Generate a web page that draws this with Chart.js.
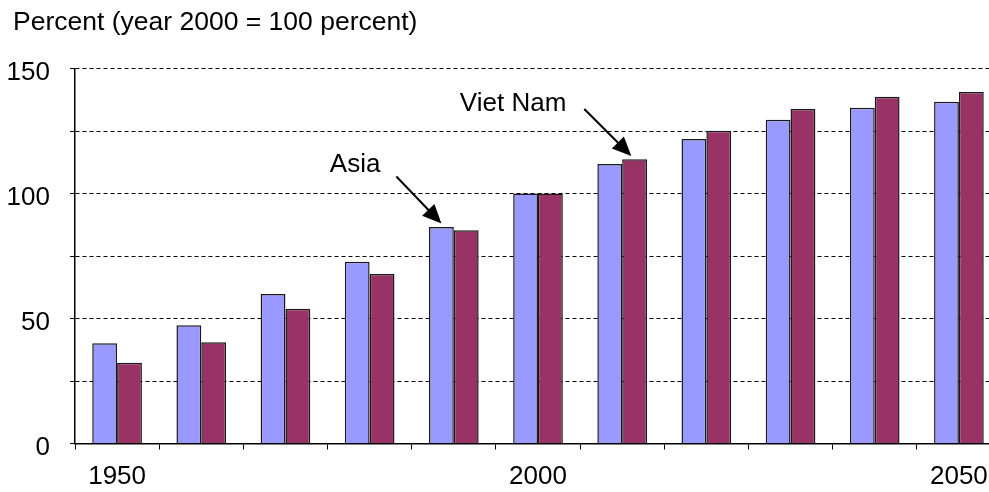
<!DOCTYPE html>
<html>
<head>
<meta charset="utf-8">
<script src="https://cdn.jsdelivr.net/npm/chart.js@4/dist/chart.umd.min.js"></script>
<style>
    html, body { margin: 0; padding: 0; background: #fff; overflow: hidden; }
    #box { width: 1010px; height: 492px; }
</style>
</head>
<body>
<div id="box"><canvas id="grafico" width="1010" height="492"></canvas></div>
<script>
// dados
const anos = ['1950', '1960', '1970', '1980', '1990', '2000', '2010', '2020', '2030', '2040', '2050'];
const anosRotulados = ['1950', '2000', '2050'];
const asia = [40.1, 47.3, 59.8, 72.7, 86.6, 100, 111.8, 121.8, 129.5, 134.3, 136.7];
const vietNam = [32.3, 40.5, 53.9, 67.8, 85.3, 100, 113.7, 125.1, 133.8, 138.7, 140.6];
const ticksY = [0, 50, 100, 150];
const titulo = 'Percent (year 2000 = 100 percent)';

const fonte = 'Arial, "Liberation Sans", sans-serif';

// título no canto superior esquerdo (fora da área das escalas)
const tituloPlugin = {
    id: 'tituloPlugin',
    afterDraw(chart) {
        const c = chart.ctx;
        c.save();
        c.font = '26.5px ' + fonte;
        c.fillStyle = '#000';
        c.textAlign = 'left';
        c.textBaseline = 'middle';
        c.fillText(titulo, 13, 23);
        c.restore();
    }
};

// setas com os nomes das séries
const setas = {
    id: 'setas',
    afterDatasetsDraw(chart) {
        const c = chart.ctx;
        const barAsia = chart.getDatasetMeta(0).data[4];
        const barVN = chart.getDatasetMeta(1).data[6];

        desenharSeta(c, barAsia.x, barAsia.y - 3.5, -45, -47, 'Asia', -16, -12);
        desenharSeta(c, barVN.x - 3.3, barVN.y - 3.3, -47, -47, 'Viet Nam', -18, -5);
    }
};

function desenharSeta(c, px, py, dx, dy, texto, tx, ty) {
    const sx = px + dx;
    const sy = py + dy;
    const ang = Math.atan2(py - sy, px - sx);
    const comp = 19;
    const larg = 8.5;

    c.save();
    c.strokeStyle = '#000';
    c.fillStyle = '#000';
    c.lineWidth = 2;
    c.beginPath();
    c.moveTo(sx, sy);
    c.lineTo(px - Math.cos(ang) * comp * 0.8, py - Math.sin(ang) * comp * 0.8);
    c.stroke();

    const bx = px - Math.cos(ang) * comp;
    const by = py - Math.sin(ang) * comp;
    c.beginPath();
    c.moveTo(px, py);
    c.lineTo(bx + Math.sin(ang) * larg, by - Math.cos(ang) * larg);
    c.lineTo(bx - Math.sin(ang) * larg, by + Math.cos(ang) * larg);
    c.closePath();
    c.fill();

    c.font = '26px ' + fonte;
    c.textAlign = 'right';
    c.textBaseline = 'middle';
    c.fillText(texto, sx + tx, sy + ty);
    c.restore();
}

const ctx = document.getElementById('grafico').getContext('2d');
const grafico = new Chart(ctx, {
    type: 'bar',
    data: {
        labels: anos,
        datasets: [{
            label: 'Asia',
            data: asia,
            backgroundColor: '#9999FF',
            borderColor: '#1a1a1a',
            borderWidth: 1.5,
            borderSkipped: 'bottom'
        }, {
            label: 'Viet Nam',
            data: vietNam,
            backgroundColor: '#993366',
            borderColor: '#1a1a1a',
            borderWidth: 1.5,
            borderSkipped: 'bottom'
        }]
    },
    options: {
        responsive: false,
        animation: false,
        devicePixelRatio: 1,
        categoryPercentage: 0.59,
        barPercentage: 1.0,
        layout: {
            padding: { left: 0, right: 9, top: 68.5, bottom: 0 }
        },
        plugins: {
            legend: { display: false },
            tooltip: { enabled: false },
            title: { display: false }
        },
        scales: {
            x: {
                grid: {
                    display: true,
                    drawOnChartArea: false,
                    drawTicks: true,
                    tickLength: 6,
                    tickColor: '#000',
                    offset: true
                },
                border: { display: true, color: '#000', width: 1.5 },
                ticks: {
                    autoSkip: false,
                    maxRotation: 0,
                    padding: 12,
                    color: '#000',
                    font: { family: fonte, size: 26 },
                    callback: function (valor, i) {
                        const rotulo = anos[i];
                        return anosRotulados.includes(rotulo) ? rotulo : '';
                    }
                },
                afterFit: function (escala) { escala.height = 48.5; }
            },
            y: {
                min: 0,
                max: 150,
                grid: {
                    color: '#000',
                    lineWidth: 1,
                    tickLength: 5,
                    tickColor: '#000'
                },
                border: { display: true, color: '#000', width: 1.5, dash: [4, 3] },
                ticks: {
                    stepSize: 25,
                    padding: 20,
                    labelOffset: 4,
                    color: '#000',
                    font: { family: fonte, size: 26 },
                    callback: function (valor) {
                        return ticksY.includes(valor) ? valor : '';
                    }
                },
                afterFit: function (escala) { escala.width = 75; }
            }
        }
    },
    plugins: [setas, tituloPlugin]
});
</script>
</body>
</html>
